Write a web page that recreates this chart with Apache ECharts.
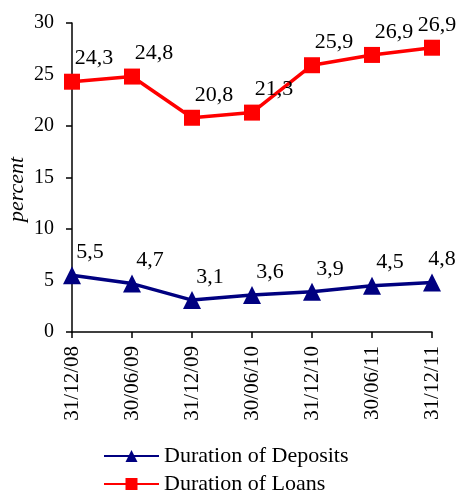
<!DOCTYPE html>
<html>
<head>
<meta charset="utf-8">
<script src="https://cdn.jsdelivr.net/npm/echarts@6/dist/echarts.min.js"></script>
<style>
html, body { margin: 0; padding: 0; background: #fff; }
#main { width: 458px; height: 493px; }
</style>
</head>
<body>
<div id="main"></div>
<script>
var categories = ['31/12/08', '30/06/09', '31/12/09', '30/06/10', '31/12/10', '30/06/11', '31/12/11'];
var deposits = [5.5, 4.7, 3.1, 3.6, 3.9, 4.5, 4.8];
var loans = [24.3, 24.8, 20.8, 21.3, 25.9, 26.9, 27.6];
// labels as printed in the source chart (the last loan label reads 26,9)
var depositLabels = ['5,5', '4,7', '3,1', '3,6', '3,9', '4,5', '4,8'];
var loanLabels = ['24,3', '24,8', '20,8', '21,3', '25,9', '26,9', '26,9'];

var font = 'Liberation Serif';

// last label is pulled back so it stays inside the picture
var withLastLabel = function (values, dx) {
    return values.map(function (v, i) {
        if (i === values.length - 1) {
            return { value: v, label: { offset: [dx, 0] } };
        }
        return v;
    });
};

var chart = echarts.init(document.getElementById('main'));
chart.setOption({
    animation: false,
    textStyle: { fontFamily: font },
    grid: { left: 72, right: 26, top: 23, bottom: 161, outerBoundsMode: 'none', containLabel: false },
    legend: {
        orient: 'vertical',
        left: 98,
        top: 440,
        height: 100,
        itemWidth: 55,
        itemHeight: 15,
        itemGap: 6,
        textStyle: { fontFamily: font, fontSize: 22, color: '#000' },
        data: ['Duration of Deposits', 'Duration of Loans']
    },
    xAxis: {
        type: 'category',
        data: categories,
        boundaryGap: false,
        axisLine: { lineStyle: { color: '#000', width: 1.5 } },
        axisTick: { show: true, alignWithLabel: true, length: 6, lineStyle: { color: '#000', width: 1.5 } },
        axisLabel: { rotate: 90, fontFamily: font, fontSize: 21, color: '#000', margin: 14 }
    },
    yAxis: {
        type: 'value',
        min: 0,
        max: 30,
        interval: 5,
        name: 'percent',
        nameLocation: 'middle',
        nameGap: 44,
        nameMoveOverlap: false,
        nameTextStyle: { fontFamily: font, fontSize: 22, fontStyle: 'italic', color: '#000', padding: [0, 24, 0, 0] },
        splitLine: { show: false },
        axisLine: { show: true, lineStyle: { color: '#000', width: 1.5 } },
        axisTick: { show: true, length: 6, lineStyle: { color: '#000', width: 1.5 } },
        axisLabel: { fontFamily: font, fontSize: 20, color: '#000', margin: 18 }
    },
    series: [
        {
            name: 'Duration of Deposits',
            type: 'line',
            data: withLastLabel(deposits, 10),
            symbol: 'triangle',
            symbolSize: 18,
            itemStyle: { color: '#000080' },
            lineStyle: { color: '#000080', width: 3.5 },
            label: {
                show: true,
                position: 'top',
                distance: 3,
                offset: [18, 0],
                fontFamily: font,
                fontSize: 22,
                color: '#000',
                formatter: function (p) { return depositLabels[p.dataIndex]; }
            }
        },
        {
            name: 'Duration of Loans',
            type: 'line',
            data: withLastLabel(loans, 5),
            symbol: 'rect',
            symbolSize: 16,
            itemStyle: { color: '#ff0000' },
            lineStyle: { color: '#ff0000', width: 3.5 },
            label: {
                show: true,
                position: 'top',
                distance: 4,
                offset: [22, 0],
                fontFamily: font,
                fontSize: 22,
                color: '#000',
                formatter: function (p) { return loanLabels[p.dataIndex]; }
            }
        }
    ]
});
</script>
</body>
</html>
